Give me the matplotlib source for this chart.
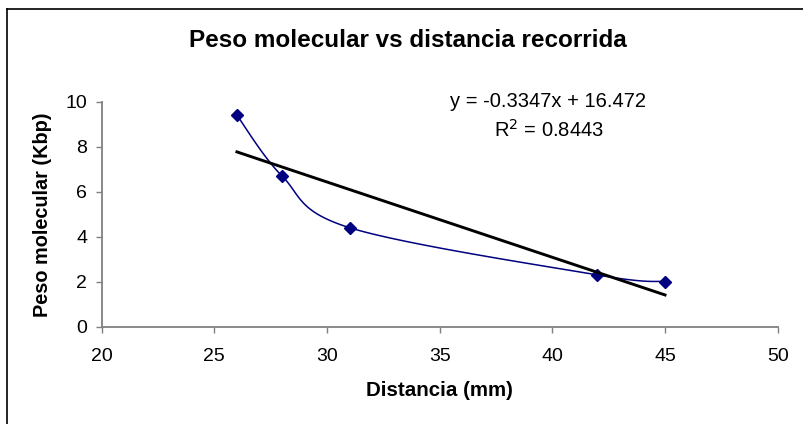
import numpy as np
import matplotlib
matplotlib.use("Agg")
import matplotlib.pyplot as plt

# data
distancia = [26, 28, 31, 42, 45]          # mm
peso = [9.4, 6.7, 4.4, 2.3, 2.0]          # Kbp

slope = -0.3347
intercept = 16.472
r2 = 0.8443

plt.rcParams['font.family'] = ['Liberation Sans', 'DejaVu Sans']


def smooth_line(xs, ys, n=30):
    # Excel-style smoothed line: Catmull-Rom through the points as cubic beziers
    px = np.array(xs, float)
    py = np.array(ys, float)
    ox, oy = [], []
    m = len(px)
    for i in range(m - 1):
        i0 = max(i - 1, 0)
        i3 = min(i + 2, m - 1)
        p0 = np.array([px[i], py[i]])
        p3 = np.array([px[i + 1], py[i + 1]])
        c1 = p0 + (p3 - np.array([px[i0], py[i0]])) / 6.0
        c2 = p3 - (np.array([px[i3], py[i3]]) - p0) / 6.0
        t = np.linspace(0, 1, n)[:, None]
        b = ((1 - t) ** 3) * p0 + 3 * ((1 - t) ** 2) * t * c1 + 3 * (1 - t) * t ** 2 * c2 + t ** 3 * p3
        ox.extend(b[:, 0])
        oy.extend(b[:, 1])
    return ox, oy


fig = plt.figure(figsize=(8.04, 4.24), dpi=100)
ax = fig.add_axes([0.1265, 0.2295, 0.8408, 0.5306])

sx, sy = smooth_line(distancia, peso)
ax.plot(sx, sy, color='#000080', lw=1.1, zorder=2, clip_on=False)
ax.plot(distancia, peso, linestyle='none', marker='D', markersize=6.5,
        color='#000080', zorder=3, clip_on=False)

# linear trendline
tx = np.array([min(distancia), max(distancia)])
ax.plot(tx, slope * tx + intercept, color='black', lw=2.1, zorder=4)

ax.text(0.660, 1.003, 'y = -0.3347x + 16.472', transform=ax.transAxes,
        ha='center', va='center', fontsize=14.5)
ax.text(0.662, 0.874, 'R$^2$ = %.4f' % r2, transform=ax.transAxes,
        ha='center', va='center', fontsize=14.5)

ax.set_xlim(20, 50)
ax.set_ylim(0, 10)
ax.set_xticks([20, 25, 30, 35, 40, 45, 50])
ax.set_yticks([0, 2, 4, 6, 8, 10])

for s in ['top', 'right']:
    ax.spines[s].set_visible(False)
for s in ['left', 'bottom']:
    ax.spines[s].set_color('#808080')
    ax.spines[s].set_linewidth(1.3)
ax.tick_params(direction='out', length=4.5, width=1, color='#808080',
               labelsize=14)
ax.tick_params(axis='x', pad=11)
ax.tick_params(axis='y', pad=6)

fig.text(0.546, 0.078, 'Distancia (mm)', ha='center', va='center',
         fontsize=14.8, fontweight='bold')
fig.text(0.053, 0.493, 'Peso molecular (Kbp)', ha='center', va='center',
         rotation=90, fontsize=14.3, fontweight='bold')

fig.text(0.507, 0.89, 'Peso molecular vs distancia recorrida',
         ha='center', va='baseline', fontsize=17.5, fontweight='bold')

# chart border (top and left edges visible in the crop)
fig.add_artist(plt.Line2D([0.0087, 0.0087], [0, 0.979], color='black', lw=1.2,
                          transform=fig.transFigure))
fig.add_artist(plt.Line2D([0.0087, 1.0], [0.979, 0.979], color='black', lw=1.2,
                          transform=fig.transFigure))

fig.savefig('out.png', dpi=100)
